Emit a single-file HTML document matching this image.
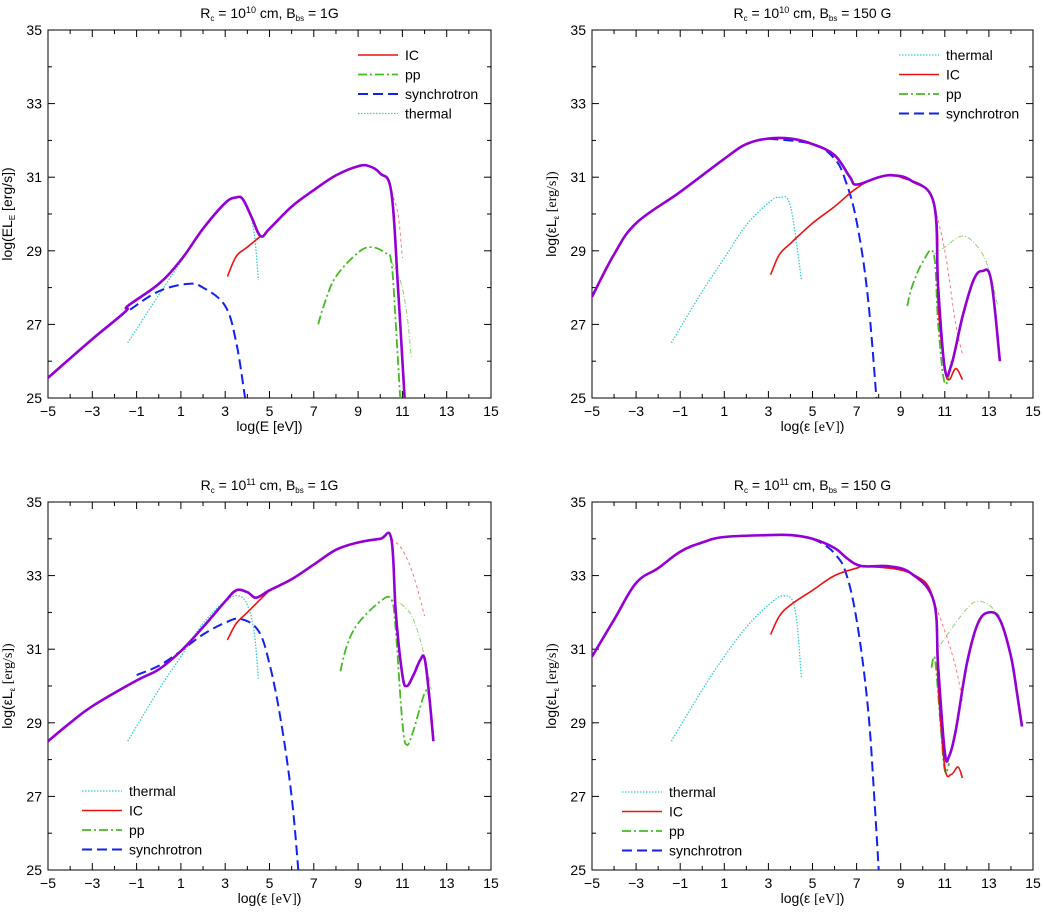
<!DOCTYPE html>
<html><head><meta charset="utf-8"><style>
html,body{margin:0;padding:0;background:#fff;}
svg{display:block;font-family:"Liberation Sans",sans-serif;}
</style></head><body>
<svg id="chart" width="1043" height="914" viewBox="0 0 1043 914" xmlns="http://www.w3.org/2000/svg"></svg>
<script>
const xTicks=[-5,-3,-1,1,3,5,7,9,11,13,15];
const yTicks=[25,27,29,31,33,35];
const panelTitles=["10","10","11","11"];
const panelB=["1G","150 G","1G","150 G"];
// panel 1
const p1Total=[[-5,25.55],[-3,26.6],[-1.5,27.35],[-1.4,27.5],[0,28.1],[1,28.75],[2,29.6],[3,30.3],[3.5,30.45],[3.8,30.4],[4.2,29.9],[4.6,29.4],[5,29.6],[6,30.2],[7,30.65],[8,31.05],[9,31.3],[9.5,31.3],[10,31.1],[10.5,30.6],[10.8,28],[11.1,25]];
const p1IC=[[3.1,28.3],[3.5,28.85],[4,29.1],[4.6,29.4]];
const p1ICthin=[[10.5,30.6],[10.8,30],[11,28.8]];
const p1PP=[[7.2,27],[7.5,27.6],[8,28.3],[9,28.95],[9.6,29.1],[10.2,28.95],[10.5,28.7],[10.7,27],[10.9,25]];
const p1PPthin=[[10.5,28.7],[10.9,28.2],[11.2,27.3],[11.4,26.1]];
const p1Syn=[[-1.3,27.4],[0,27.9],[1.3,28.1],[2,28],[3,27.5],[3.5,26.5],[3.9,25]];
const p1Th=[[-1.4,26.5],[0,27.8],[1,28.7],[2,29.6],[3,30.3],[3.6,30.45],[4,30.2],[4.3,29.5],[4.5,28.2]];
// panel 2
const p2Total=[[-5,27.75],[-4,28.9],[-3,29.75],[-1,30.6],[1,31.5],[2,31.9],[3,32.05],[4,32.05],[5,31.9],[6,31.6],[6.7,31.0],[7,30.8],[8,31.0],[8.7,31.05],[9.5,30.9],[10.5,30.3],[10.7,28],[11,25.8],[11.3,25.9],[11.8,27.2],[12.3,28.2],[12.7,28.45],[13.1,28.2],[13.5,26.0]];
const p2IC=[[3.1,28.35],[3.5,28.9],[4,29.2],[5,29.75],[6,30.2],[7,30.7],[8,31.0],[9,31.0],[10.5,30.3],[10.7,27.5],[11,25.8],[11.2,25.5],[11.5,25.8],[11.8,25.5]];
const p2ICthin=[[10.5,30.3],[11,29],[11.5,27],[11.8,26.2]];
const p2PP=[[9.3,27.5],[9.5,28],[10,28.7],[10.5,28.9],[10.7,27],[11,25.4],[11.3,26]];
const p2PPthin=[[10.5,28.9],[11,29.1],[11.8,29.4],[12.5,29.1],[13,28.5],[13.4,27.5]];
const p2Syn=[[3,32.05],[5,31.9],[6,31.5],[6.5,30.9],[7,29.8],[7.5,27.8],[7.9,25]];
const p2Th=[[-1.4,26.5],[0,27.9],[1,28.8],[2,29.7],[3,30.3],[3.5,30.45],[4,30.2],[4.5,28.2]];
// panel 3
const p3Total=[[-5,28.5],[-4,29],[-3,29.45],[-1,30.15],[0,30.45],[1,30.95],[2,31.6],[3,32.3],[3.5,32.6],[4,32.55],[4.4,32.4],[5,32.6],[6,32.9],[7,33.3],[8,33.7],[9,33.9],[10,34.0],[10.5,34.0],[10.7,32],[11,30.3],[11.2,30],[11.5,30.3],[11.8,30.7],[12,30.75],[12.2,29.8],[12.4,28.5]];
const p3IC=[[3.1,31.25],[3.5,31.7],[4,32.0],[5,32.6]];
const p3ICthin=[[10.5,34.0],[11,33.7],[11.5,33.0],[12,31.9]];
const p3PP=[[8.2,30.4],[8.5,31.1],[9,31.7],[10,32.3],[10.5,32.35],[10.7,31.5],[11,29],[11.2,28.4],[11.5,28.8],[12,29.8],[12.2,29.7],[12.4,28.6]];
const p3PPthin=[[10.5,32.35],[11,32.2],[11.5,31.8],[12,30.8],[12.3,29.9]];
const p3Syn=[[-1,30.3],[0,30.55],[1,30.95],[2,31.4],[3,31.72],[3.7,31.82],[4.5,31.5],[5,30.6],[5.5,29.1],[6,27],[6.3,25]];
const p3Th=[[-1.4,28.5],[0,29.9],[1,30.8],[2,31.7],[3,32.3],[3.6,32.45],[4,32.2],[4.3,31.5],[4.5,30.2]];
// panel 4
const p4Total=[[-5,30.8],[-4,31.8],[-3,32.8],[-2,33.2],[-1,33.65],[0,33.9],[1,34.05],[3,34.1],[4,34.1],[5,34.0],[6,33.75],[6.5,33.5],[7,33.3],[7.5,33.25],[8.5,33.25],[9.5,33.05],[10.5,32.3],[10.7,30.5],[11,28.2],[11.2,28.1],[11.5,28.8],[12,30.6],[12.5,31.7],[13,32.0],[13.5,31.8],[14,30.8],[14.3,29.7],[14.5,28.9]];
const p4IC=[[3.1,31.4],[3.5,31.9],[4,32.2],[5,32.6],[6,33.0],[7,33.2],[7.5,33.25],[9.5,33.05],[10.5,32.3],[10.7,30],[11,27.8],[11.3,27.6],[11.6,27.8],[11.8,27.5]];
const p4ICthin=[[10.5,32.3],[11,31.5],[11.5,30.5],[11.8,29.6]];
const p4PP=[[10.4,30.5],[10.5,30.8],[10.6,30.5],[10.8,29],[11,27.7],[11.2,27.9]];
const p4PPthin=[[10.6,30.9],[11,31.3],[12,32.1],[12.5,32.3],[13,32.2],[13.5,31.9]];
const p4Syn=[[5,34.0],[5.5,33.85],[6,33.6],[6.5,33.1],[7,31.8],[7.5,29.5],[7.8,27],[8,25]];
const p4Th=[[-1.4,28.5],[0,29.9],[1,30.8],[2,31.6],[3,32.2],[3.7,32.45],[4.2,32.1],[4.5,30.2]];

const NS="http://www.w3.org/2000/svg";
const svg=document.getElementById('chart');
function mk(tag,attrs,parent,txt){const e=document.createElementNS(NS,tag);for(const k in attrs)e.setAttribute(k,attrs[k]);if(txt!==undefined)e.textContent=txt;parent.appendChild(e);return e;}
function smooth(pts){
 if(pts.length<3) return pts.map((p,j)=>(j?"L":"M")+p[0].toFixed(1)+","+p[1].toFixed(1)).join("");
 let d="M"+pts[0][0].toFixed(1)+","+pts[0][1].toFixed(1);
 const t=0.18;
 for(let i=0;i<pts.length-1;i++){
  const p0=pts[Math.max(0,i-1)],p1=pts[i],p2=pts[i+1],p3=pts[Math.min(pts.length-1,i+2)];
  const c1=[p1[0]+(p2[0]-p0[0])*t,p1[1]+(p2[1]-p0[1])*t];
  const c2=[p2[0]-(p3[0]-p1[0])*t,p2[1]-(p3[1]-p1[1])*t];
  d+="C"+c1[0].toFixed(1)+","+c1[1].toFixed(1)+" "+c2[0].toFixed(1)+","+c2[1].toFixed(1)+" "+p2[0].toFixed(1)+","+p2[1].toFixed(1);
 }
 return d;
}
const styles={
 th:{stroke:"#33cccc",w:1.3,dash:"1.5,1.5"},
 ic:{stroke:"#ee1111",w:1.6,dash:""},
 pp:{stroke:"#44bb22",w:1.8,dash:"9,3,2,3"},
 syn:{stroke:"#1122ee",w:2,dash:"10,5"},
 tot:{stroke:"#9400d3",w:2.6,dash:""},
 icthin:{stroke:"#ff6666",w:0.9,dash:"3,3"},
 ppthin:{stroke:"#88cc66",w:0.9,dash:"5,2,1,2"}
};
const panels=[
 {x0:48,x1:491,y0:30,y1:398,data:{th:p1Th,syn:p1Syn,pp:p1PP,ppthin:p1PPthin,icthin:p1ICthin,ic:p1IC,tot:p1Total},legend:{order:["ic","pp","syn","th"],lx:358,ty:55},ylab:"E"},
 {x0:592,x1:1033,y0:30,y1:398,data:{th:p2Th,syn:p2Syn,pp:p2PP,ppthin:p2PPthin,icthin:p2ICthin,ic:p2IC,tot:p2Total},legend:{order:["th","ic","pp","syn"],lx:899,ty:55},ylab:"e"},
 {x0:48,x1:491,y0:502,y1:870,data:{th:p3Th,syn:p3Syn,pp:p3PP,ppthin:p3PPthin,icthin:p3ICthin,ic:p3IC,tot:p3Total},legend:{order:["th","ic","pp","syn"],lx:82,ty:791},ylab:"e"},
 {x0:592,x1:1033,y0:502,y1:870,data:{th:p4Th,syn:p4Syn,pp:p4PP,ppthin:p4PPthin,icthin:p4ICthin,ic:p4IC,tot:p4Total},legend:{order:["th","ic","pp","syn"],lx:622,ty:792},ylab:"e"}
];
const names={ic:"IC",pp:"pp",syn:"synchrotron",th:"thermal"};
panels.forEach((p,i)=>{
 const g=mk('g',{},svg);
 
 
 const sx=v=>p.x0+(v+5)/20*(p.x1-p.x0);
 const sy=v=>p.y1-(v-25)/10*(p.y1-p.y0);
 const fr=mk('rect',{x:p.x0,y:p.y0,width:p.x1-p.x0,height:p.y1-p.y0,fill:"none",stroke:"#000","stroke-width":1},g);
 
 
 for(let v=-5;v<=15;v++){const L=(v%2!==0)?7:4;const X=sx(v);
  mk('line',{x1:X,y1:p.y1,x2:X,y2:p.y1-L,stroke:"#000"},g);mk('line',{x1:X,y1:p.y0,x2:X,y2:p.y0+L,stroke:"#000"},g);}
 for(let v=25;v<=35;v++){const L=(v%2!==0)?7:4;const Y=sy(v);
  mk('line',{x1:p.x0,y1:Y,x2:p.x0+L,y2:Y,stroke:"#000"},g);mk('line',{x1:p.x1,y1:Y,x2:p.x1-L,y2:Y,stroke:"#000"},g);}
 xTicks.forEach(v=>{const t=mk('text',{x:sx(v),y:p.y1+18,"text-anchor":"middle","font-size":14},g,v<0?"\u2212"+(-v):String(v));
  
  });
 yTicks.forEach(v=>{const t=mk('text',{x:p.x0-6,y:sy(v)+5,"text-anchor":"end","font-size":14},g,String(v));
  
  });
 const cx=(p.x0+p.x1)/2;
 const tt=mk('text',{x:cx,y:p.y0-12,"text-anchor":"middle","font-size":14},g);
 
 
 tt.innerHTML='R<tspan font-size="8" dy="3">c</tspan><tspan dy="-3"> = 10</tspan><tspan font-size="9" dy="-5">'+panelTitles[i]+'</tspan><tspan dy="5"> cm, B</tspan><tspan font-size="8" dy="3">bs</tspan><tspan dy="-3"> = '+panelB[i]+'</tspan>';
 const xl=mk('text',{x:cx,y:p.y1+33,"text-anchor":"middle","font-size":14},g);
 
 
 if(p.ylab==="E") xl.textContent="log(E [eV])"; else xl.innerHTML='log(ε <tspan font-family="Liberation Serif">[eV]</tspan>)';
 const yl=mk('text',{x:0,y:0,"text-anchor":"middle","font-size":14,transform:"translate("+(p.x0-36)+","+((p.y0+p.y1)/2)+") rotate(-90)"},g);
 
 
 if(p.ylab==="E") yl.innerHTML='log(EL<tspan font-size="8" dy="3">E</tspan><tspan dy="-3"> [erg/s])</tspan>';
 else yl.innerHTML='log(εL<tspan font-size="8" dy="3">ε</tspan><tspan dy="-3" font-family="Liberation Serif"> [erg/s])</tspan>';
 const cl=mk('clipPath',{id:'clip'+i},g);mk('rect',{x:p.x0,y:p.y0,width:p.x1-p.x0,height:p.y1-p.y0},cl);
 const sg=mk('g',{"clip-path":"url(#clip"+i+")"},g);
 ["ppthin","icthin","th","syn","pp","ic","tot"].forEach(k=>{
  const st=styles[k];
  const d=smooth(p.data[k].map(pt=>[sx(pt[0]),sy(pt[1])]));
  const path=mk('path',{d:d,fill:"none",stroke:st.stroke,"stroke-width":st.w,"stroke-dasharray":st.dash,"stroke-linejoin":"round"},sg);
  
  
 });
 const lg=mk('g',{},g);
 
 
 p.legend.order.forEach((k,j)=>{const st=styles[k];const Y=p.legend.ty+j*19.5;
  const ln=mk('line',{x1:p.legend.lx,y1:Y,x2:p.legend.lx+40,y2:Y,stroke:st.stroke,"stroke-width":st.w,"stroke-dasharray":st.dash},lg);
  
  
  const t=mk('text',{x:p.legend.lx+47,y:Y+5,"font-size":14},lg,names[k]);
  
  
 });
});
</script>
</body></html>
